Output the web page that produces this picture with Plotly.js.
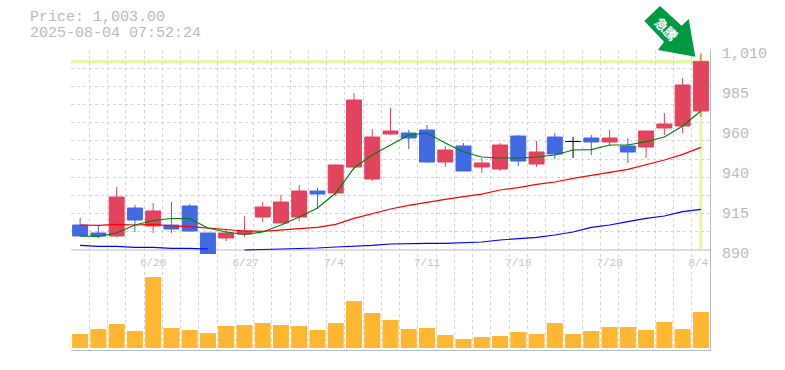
<!DOCTYPE html>
<html>
<head>
<meta charset="utf-8">
<script src="https://cdn.plot.ly/plotly-3.0.1.min.js"></script>
<style>html,body{margin:0;padding:0;background:#fff}#c{width:785px;height:370px}</style>
</head>
<body>
<div id="c"></div>
<script>
var idx = [];
for (var n = 0; n < 35; n++) idx.push(n);
var open  = [905,900.2,898.4,915.2,904.4,905,916.4,900.2,897.2,899.6,909.8,906.2,909.8,925.4,924.2,939.8,932.6,959.6,960.2,962,942.8,952.4,939.8,938.6,958.4,941.6,957.8,null,957.2,954.8,952.4,951.8,963.2,964.4,973.4];
var high  = [909.2,905,927.8,917,918.2,918.8,917.6,900.2,902.6,910.4,918.8,923,929,927.2,941.6,984.2,962.6,975.2,962,965,952.4,954.2,945.2,954.2,959,955.4,960.2,null,959,962,957.2,961.4,972.2,993.2,1007.6];
var low   = [898.4,897.2,897.8,900.8,900.2,900.2,900.8,887.6,895.4,897.8,906.8,906.2,907.4,915.2,922.4,938,931.4,959,950.6,942.2,939.8,937.4,936.2,937.4,940.4,939.8,944.6,null,947,952.4,942.2,945.2,959,960.2,969.8];
var close = [898.4,898.4,921.8,908,913.4,902.6,901.4,887.6,900.2,901.4,915.8,918.8,925.4,923.6,941,980,957.8,961.4,957.2,942.8,950,937.4,942.2,953,943.4,948.8,947.6,null,954.8,957.2,948.8,961.4,965.6,989,1003];
var dojiOpen  = idx.map(function(i){return i === 27 ? 955.1 : null;});
var dojiHigh  = idx.map(function(i){return i === 27 ? 957.8 : null;});
var dojiLow   = idx.map(function(i){return i === 27 ? 945.2 : null;});
var dojiClose = idx.map(function(i){return i === 27 ? 955.1 : null;});
var maShort = [898.4,898.1,900.2,905,907.7,908.9,908.9,903.2,900.8,899.3,900.8,905,909.8,915.2,924.2,939.2,947,953,959,960.2,954.2,948.8,945.8,945.2,945.2,945.8,947,950,950.2,953,953,955,957.8,964.4,973.4];
var maMid   = [905,904.8,905.4,905,905.4,904.4,904,903,902,901.4,901.2,901.8,902.8,903.6,905.4,909,912,914.6,916.8,918.8,920.4,922,923.5,926,927.4,929.4,930.8,933,935,936.6,938.4,941,944,947.4,951.6];
var maLong  = [892.8,892.2,892.2,891.6,891.6,891,891,890.6,null,890,890.2,890.4,891,891.2,891.8,892.2,892.8,893.6,894,894,894,894.6,894.8,896,896.6,897.6,899,900.8,903.6,905,907,909,910.4,913,914.4];
var volume  = [14,19,24,17,71,20,18,15,22,23,25,23,22,18,25,47,35,28,19,20,13,9,11,12,16,14,25,14,17,21,21,18,26,19,36];
var dateVals = [4,9.07,13.9,19,24,29,33.85];
var dateText = ["6/20","6/27","7/4","7/11","7/18","7/28","8/4"];
var priceTickVals = [1008.2,984.2,960.2,936.2,912.2,888.2];
var priceTickText = ["1,010","985","960","940","915","890"];
var priceGrid = [1010,999.09,988.18,977.27,966.36,955.45,944.55,933.64,922.73,911.82,900.91];
var lastPrice = 1003;
var lastIndex = 34;
var headerLines = ["Price: 1,003.00","2025-08-04 07:52:24"];
var badgeText = "急騰";

var W = 639, H = 300, L = 71, T = 50;
function px(x){return (x - L) / W;}
function py(y){return (T + H - y) / H;}
var xGrid = [];
for (var k = 0; k <= 35; k++) xGrid.push(k - 0.5);

var GRID = "#d6d6d6", AX = "#bbbbbb", MONO = "Liberation Mono, monospace";
var RED = "#e2435f", BLUE = "#4169e1", PALE = "#e6f5a9";

function ma(y, color){
  return {type:"scatter", mode:"lines", x:idx, y:y, xaxis:"x", yaxis:"y",
          line:{color:color, width:1.2}, hoverinfo:"skip", connectgaps:false};
}
var traces = [
  ma(maLong,"#0000ff"), ma(maMid,"#ff0000"), ma(maShort,"#008000"),
  {type:"candlestick", x:idx, open:open, high:high, low:low, close:close, xaxis:"x", yaxis:"y",
   increasing:{line:{color:RED,width:1}, fillcolor:RED},
   decreasing:{line:{color:BLUE,width:1}, fillcolor:BLUE}, whiskerwidth:0},
  {type:"candlestick", x:idx, open:dojiOpen, high:dojiHigh, low:dojiLow, close:dojiClose, xaxis:"x", yaxis:"y",
   increasing:{line:{color:"#000000",width:1}, fillcolor:"#000000"},
   decreasing:{line:{color:"#000000",width:1}, fillcolor:"#000000"}, whiskerwidth:0},
  {type:"bar", x:idx, y:volume, xaxis:"x2", yaxis:"y2", marker:{color:"#ffb733", line:{width:0}}}
];
var minorX = {tickvals:xGrid, showgrid:true, gridcolor:GRID, griddash:"3px,3px", gridwidth:1, ticklen:0};
var arrow = [[660,6],[644.3,21],[664,41.7],[658,50],[695.3,56.7],[688.7,19],[681.7,25.7]];
var arrowPath = arrow.map(function(p,i){return (i?"L":"M") + px(p[0]) + "," + py(p[1]);}).join(" ") + " Z";

var layout = {
  width:785, height:370, showlegend:false, paper_bgcolor:"#fff", plot_bgcolor:"#fff",
  margin:{l:L, r:75, t:T, b:20, pad:0},
  boxgap:0.18, boxgroupgap:0, bargap:0.12,
  xaxis:{domain:[0,1], range:[-0.5,34.5], anchor:"y", rangeslider:{visible:false}, showgrid:false, zeroline:false,
         tickmode:"array", tickvals:dateVals, ticktext:dateText, tickfont:{family:MONO,size:11,color:"#c4c4c4"},
         ticks:"", showline:false, minor:minorX},
  xaxis2:{domain:[0,1], range:[-0.5,34.5], anchor:"y2", showgrid:false, zeroline:false, showticklabels:false,
          ticks:"", showline:true, linecolor:AX, linewidth:1, minor:minorX},
  yaxis:{domain:[0.32,1], range:[887.6,1010], side:"right", anchor:"x", showgrid:false, zeroline:false,
         tickmode:"array", tickvals:priceTickVals, ticktext:priceTickText, ticks:"", ticklabelstandoff:8,
         tickfont:{family:MONO,size:15,color:"#bbbbbb"}, showline:true, linecolor:AX, linewidth:1,
         minor:{tickvals:priceGrid, showgrid:true, gridcolor:GRID, griddash:"3px,3px", gridwidth:1, ticklen:0}},
  yaxis2:{domain:[0,0.32], range:[-2,94], side:"right", anchor:"x2", showgrid:false, zeroline:false,
          showticklabels:false, ticks:"", showline:true, linecolor:AX, linewidth:1},
  shapes:[
    {type:"line", layer:"below", xref:"paper", yref:"y", x0:0, x1:1, y0:890, y1:890, line:{color:AX,width:1}},
    {type:"line", layer:"below", xref:"paper", yref:"y", x0:0, x1:1, y0:lastPrice, y1:lastPrice, line:{color:PALE,width:3.5}},
    {type:"line", layer:"below", xref:"x", yref:"paper", x0:lastIndex, x1:lastIndex, y0:py(249), y1:py(52), line:{color:PALE,width:3}},
    {type:"path", layer:"above", xref:"paper", yref:"paper", path:arrowPath, fillcolor:"#009944", line:{width:0}}
  ],
  annotations:[
    {xref:"paper", yref:"paper", x:px(28), y:py(18), xanchor:"left", yanchor:"middle", showarrow:false,
     text:headerLines[0], font:{family:MONO,size:15,color:"#bbbbbb"}},
    {xref:"paper", yref:"paper", x:px(28), y:py(33), xanchor:"left", yanchor:"middle", showarrow:false,
     text:headerLines[1], font:{family:MONO,size:15,color:"#bbbbbb"}},
    {xref:"paper", yref:"paper", x:px(666.5), y:py(28), xanchor:"center", yanchor:"middle", showarrow:false, textangle:45,
     text:"<b>"+badgeText+"</b>", font:{family:"Noto Sans CJK JP",size:13,color:"#ffffff"}}
  ]
};
Plotly.newPlot("c", traces, layout, {displayModeBar:false, staticPlot:true});
</script>
</body>
</html>
